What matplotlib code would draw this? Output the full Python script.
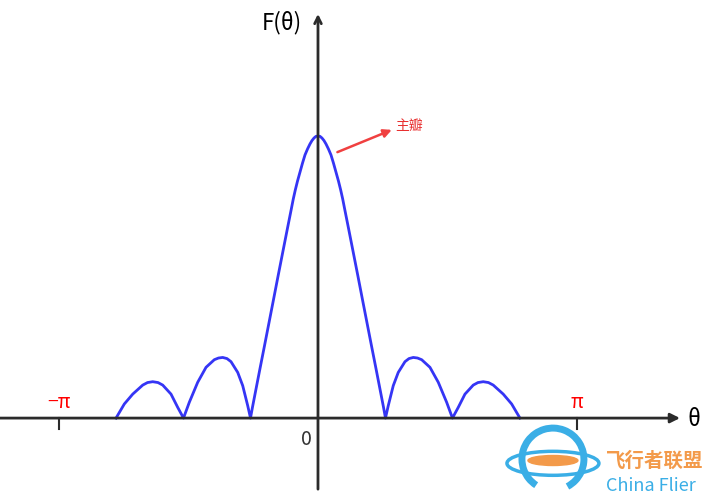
import numpy as np
import matplotlib
matplotlib.use('Agg')
import matplotlib.pyplot as plt
from matplotlib.patches import Arc, Ellipse

plt.rcParams['font.family'] = ['Noto Sans CJK SC', 'DejaVu Sans']

# theta in units of pi, F normalised to the main lobe peak
theta = [-0.7799, -0.7479, -0.7154, -0.6768, -0.6583, -0.6382, -0.6178, -0.5996, -0.5676, -0.5417, -0.5193,
         -0.4969, -0.4645, -0.4324, -0.4004, -0.3842, -0.3680, -0.3514, -0.3359, -0.3100, -0.2907, -0.2714, -0.2606,
         -0.2529, -0.2417, -0.2243, -0.2069, -0.1888, -0.1714, -0.1541, -0.1359, -0.1185, -0.1031, -0.0954,
         -0.0876, -0.0792, -0.0695, -0.0598, -0.0502, -0.0405, -0.0309, -0.0232, -0.0154, -0.0077, 0.0,
         0.0077, 0.0154, 0.0232, 0.0309, 0.0405, 0.0502, 0.0598, 0.0695, 0.0792, 0.0876,
         0.0954, 0.1031, 0.1185, 0.1359, 0.1541, 0.1714,
         0.1888, 0.2069, 0.2243, 0.2417, 0.2529, 0.2606,
         0.2714, 0.2907, 0.3100, 0.3359, 0.3514, 0.3680, 0.3842, 0.4004, 0.4324, 0.4645, 0.4969, 0.5193,
         0.5417, 0.5676, 0.5996, 0.6178, 0.6382, 0.6583, 0.6768, 0.7154, 0.7479, 0.7799]
F = [0.0, 0.050, 0.085, 0.117, 0.126, 0.129, 0.126, 0.117, 0.085, 0.038, 0.0,
     0.056, 0.127, 0.180, 0.207, 0.213, 0.215, 0.211, 0.200, 0.162, 0.115, 0.044, 0.0,
     0.039, 0.092, 0.174, 0.255, 0.340, 0.422, 0.504, 0.589, 0.670, 0.741, 0.777,
     0.809, 0.840, 0.872, 0.904, 0.933, 0.954, 0.972, 0.984, 0.993, 0.999, 1.0,
     0.999, 0.993, 0.984, 0.972, 0.954, 0.933, 0.904, 0.872, 0.840, 0.809,
     0.777, 0.741, 0.670, 0.589, 0.504, 0.422,
     0.340, 0.255, 0.174, 0.092, 0.039, 0.0,
     0.044, 0.115, 0.162, 0.200, 0.211, 0.215, 0.213, 0.207, 0.180, 0.127, 0.056, 0.0,
     0.038, 0.085, 0.117, 0.126, 0.129, 0.126, 0.117, 0.085, 0.050, 0.0]

tick_pos = [-1.0, 1.0]
tick_labels = ['−π', 'π']


def main():
    fig = plt.figure(figsize=(7.09, 5.02), dpi=100)
    ax = fig.add_axes([0, 0, 1, 1])
    ax.set_xlim(-1.228, 1.510)
    ax.set_ylim(-0.294, 1.486)
    ax.axis('off')

    axis_col = '#2b2b2b'
    # axes with arrow heads
    ax.annotate('', xy=(1.398, 0), xytext=(-1.228, 0),
                arrowprops=dict(arrowstyle='-|>', color=axis_col, lw=2, mutation_scale=14,
                                shrinkA=0, shrinkB=0))
    ax.annotate('', xy=(0, 1.433), xytext=(0, -0.252),
                arrowprops=dict(arrowstyle='->', color=axis_col, lw=2, mutation_scale=12,
                                shrinkA=0, shrinkB=0))

    for p, lab in zip(tick_pos, tick_labels):
        ax.plot([p, p], [0, -0.04], color=axis_col, lw=1.5)
        ax.text(p, 0.02, lab, color='red', fontsize=14, ha='center', va='bottom')

    ax.text(-0.045, -0.035, '0', color='#333333', fontsize=14, ha='center', va='top')
    ax.text(1.428, 0.0, 'θ', color='black', fontsize=16, ha='left', va='center')
    ax.text(-0.218, 1.405, 'F(θ)', color='black', fontsize=16, fontweight='medium',
            ha='left', va='center')

    ax.plot(theta, F, color='#3535f5', lw=2.0, solid_joinstyle='round')

    # main lobe annotation
    ax.annotate('', xy=(0.285, 1.022), xytext=(0.075, 0.943),
                arrowprops=dict(arrowstyle='-|>', color='#f04040', lw=1.8, mutation_scale=12,
                                shrinkA=0, shrinkB=0))
    ax.text(0.297, 1.04, '主瓣', color='#e83030', fontsize=10, ha='left', va='center')

    # watermark
    cx, cy = (553 - 318) / 259, (419 - 460) / 282
    ax.add_patch(Arc((cx, cy), 62 / 259, 62 / 282, theta1=-60, theta2=235,
                     color='#3aaee6', lw=5))
    ax.add_patch(Ellipse((cx, cy - 0.015), 92 / 259, 24 / 282, fill=False,
                         color='#3aaee6', lw=2.5))
    ax.add_patch(Ellipse((cx, cy - 0.005), 50 / 259, 10 / 282, color='#f39a4a'))
    ax.text((606 - 318) / 259, (419 - 461) / 282, '飞行者联盟', color='#f39a4a',
            fontsize=14, fontweight='bold', ha='left', va='center')
    ax.text((606 - 318) / 259, (419 - 486) / 282, 'China Flier', color='#3aaee6',
            fontsize=13, fontweight='medium', ha='left', va='center')

    fig.savefig('out.png', dpi=100)
    plt.close(fig)


if __name__ == '__main__':
    main()
